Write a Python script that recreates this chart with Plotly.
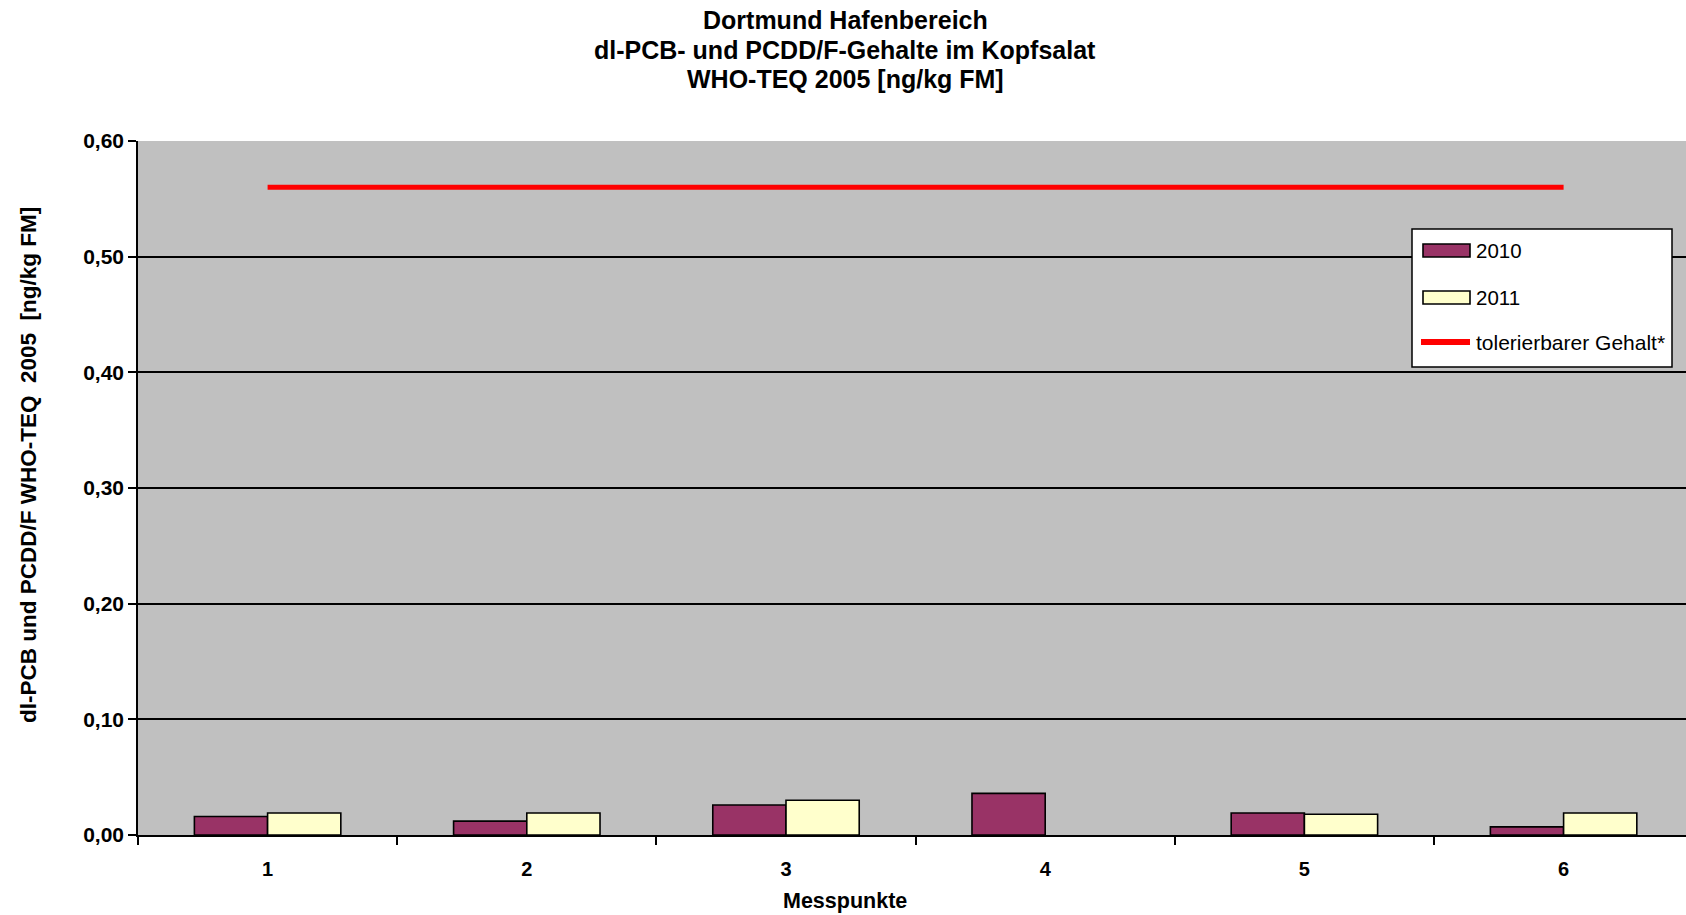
import plotly.graph_objects as go

# Messpunkte and measured WHO-TEQ 2005 contents [ng/kg FM]
messpunkte = ["1", "2", "3", "4", "5", "6"]
werte_2010 = [0.016, 0.012, 0.026, 0.036, 0.019, 0.007]
werte_2011 = [0.019, 0.019, 0.030, None, 0.018, 0.019]
tolerierbarer_gehalt = 0.56
y_ticks = [0.0, 0.1, 0.2, 0.3, 0.4, 0.5, 0.6]

titel_zeilen = [
    "Dortmund Hafenbereich",
    "dl-PCB- und PCDD/F-Gehalte im Kopfsalat",
    "WHO-TEQ 2005 [ng/kg FM]",
]
serien = [("2010", werte_2010, "#993366"), ("2011", werte_2011, "#FFFFCC")]
linie_name = "tolerierbarer Gehalt*"
linie_farbe = "#FF0000"

# page geometry (pixels)
W, H = 1686, 915
L, R, T, B = 138, 0, 141, 80
PW, PH = W - L - R, H - T - B
CAT_PX = 259.2  # width of one Messpunkt category


def px_x(x):
    return (x - L) / PW


def px_y(y):
    return (H - B - y) / PH


FONT = "Liberation Sans, Arial, sans-serif"

fig = go.Figure()

for name, werte, farbe in serien:
    fig.add_trace(go.Bar(
        x=messpunkte, y=werte, name=name,
        marker=dict(color=farbe, line=dict(color="#000000", width=1.6)),
        showlegend=False,
    ))

fig.add_trace(go.Scatter(
    x=messpunkte, y=[tolerierbarer_gehalt] * len(messpunkte),
    mode="lines", name=linie_name,
    line=dict(color=linie_farbe, width=5),
    showlegend=False,
))

# legend box drawn in paper space
shapes = [
    dict(type="rect", xref="paper", yref="paper",
         x0=px_x(1412), x1=px_x(1672), y0=px_y(367), y1=px_y(229),
         fillcolor="#FFFFFF", line=dict(color="#000000", width=1.5), layer="above"),
]
annotations = []
legend_rows = [250.5, 297.5]
for (name, _, farbe), yc in zip(serien, legend_rows):
    shapes.append(dict(type="rect", xref="paper", yref="paper",
                       x0=px_x(1423), x1=px_x(1470), y0=px_y(yc + 6.5), y1=px_y(yc - 6.5),
                       fillcolor=farbe, line=dict(color="#000000", width=1.6), layer="above"))
    annotations.append(dict(xref="paper", yref="paper", x=px_x(1474), y=px_y(yc),
                            xanchor="left", yanchor="middle", text=name, showarrow=False,
                            font=dict(family=FONT, size=20.5, color="#000000")))
shapes.append(dict(type="line", xref="paper", yref="paper",
                   x0=px_x(1421), x1=px_x(1470), y0=px_y(342), y1=px_y(342),
                   line=dict(color=linie_farbe, width=6), layer="above"))
annotations.append(dict(xref="paper", yref="paper", x=px_x(1474), y=px_y(342),
                        xanchor="left", yanchor="middle", text=linie_name, showarrow=False,
                        font=dict(family=FONT, size=21, color="#000000")))

# three title lines
for zeile, yc in zip(titel_zeilen, [20.5, 50.0, 79.5]):
    annotations.append(dict(xref="paper", yref="paper", x=px_x(845), y=px_y(yc),
                            xanchor="center", yanchor="middle", text=zeile, showarrow=False,
                            font=dict(family=FONT, size=25, color="#000000", weight="bold")))

# axis titles
annotations.append(dict(xref="paper", yref="paper", x=px_x(28), y=px_y(465),
                        xanchor="center", yanchor="middle", textangle=-90,
                        text="dl-PCB und PCDD/F WHO-TEQ\u00a0\u00a02005\u00a0\u00a0[ng/kg FM]",
                        showarrow=False,
                        font=dict(family=FONT, size=22.5, color="#000000", weight="bold")))
annotations.append(dict(xref="paper", yref="paper", x=px_x(845), y=px_y(901),
                        xanchor="center", yanchor="middle", text="Messpunkte", showarrow=False,
                        font=dict(family=FONT, size=21.5, color="#000000", weight="bold")))

fig.update_layout(
    width=W, height=H,
    margin=dict(l=L, r=R, t=T, b=B, autoexpand=False),
    paper_bgcolor="#FFFFFF",
    plot_bgcolor="#C0C0C0",
    separators=", ",
    barmode="group",
    bargap=0.435,
    bargroupgap=0.0,
    showlegend=False,
    shapes=shapes,
    annotations=annotations,
    xaxis=dict(
        type="category",
        range=[-0.5, -0.5 + PW / CAT_PX],
        showgrid=False, zeroline=False,
        showline=True, linecolor="#000000", linewidth=1.6,
        ticks="outside", tickson="boundaries", ticklen=8, tickwidth=1.5, tickcolor="#000000",
        ticklabelstandoff=15,
        tickfont=dict(family=FONT, size=20, color="#000000", weight="bold"),
    ),
    yaxis=dict(
        range=[0, 0.6],
        tickvals=y_ticks, tickformat=".2f",
        showgrid=True, gridcolor="#000000", gridwidth=1.5,
        zeroline=False,
        showline=True, linecolor="#000000", linewidth=1.6,
        ticks="outside", ticklen=8, tickwidth=1.5, tickcolor="#000000",
        tickfont=dict(family=FONT, size=21, color="#000000", weight="bold"),
    ),
)

fig.write_html("out.html")
